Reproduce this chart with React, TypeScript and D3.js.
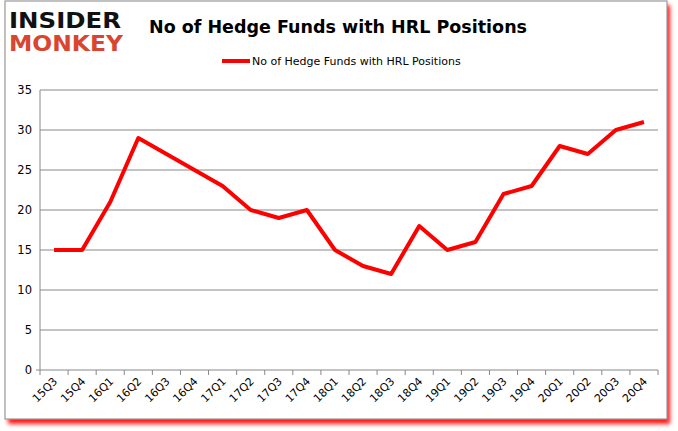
import React from "react";
import * as d3 from "d3";

const categories = ["15Q3","15Q4","16Q1","16Q2","16Q3","16Q4","17Q1","17Q2","17Q3","17Q4","18Q1","18Q2","18Q3","18Q4","19Q1","19Q2","19Q3","19Q4","20Q1","20Q2","20Q3","20Q4"];
const values = [15,15,21,29,27,25,23,20,19,20,15,13,12,18,15,16,22,23,28,27,30,31];
const yTicks = [0,5,10,15,20,25,30,35];
const seriesName = "No of Hedge Funds with HRL Positions";
const title = "No of Hedge Funds with HRL Positions";

export default function App() {
  const W = 678, H = 431;
  const left = 40, right = 658, top = 90, bottom = 370;
  const x = d3.scaleBand<string>().domain(categories).range([left, right]);
  const y = d3.scaleLinear().domain([0, 35]).range([bottom, top]);
  const line = d3.line<number>()
    .x((_, i) => (x(categories[i]) as number) + x.bandwidth() / 2)
    .y(d => y(d));
  const font = "Tahoma, 'DejaVu Sans', Verdana, sans-serif";
  return (
    <svg width={W} height={H} style={{ position: "absolute", left: 0, top: 0 }}>
      <defs>
        <filter id="blur" x="-5%" y="-5%" width="110%" height="110%">
          <feGaussianBlur stdDeviation="2" />
        </filter>
      </defs>
      <rect x={0} y={0} width={W} height={H} fill="#fff" />
      <rect x={8} y={5} width={662} height={419} fill="#ff0000" filter="url(#blur)" opacity={0.9} />
      <rect x={5} y={1} width={662} height={418} fill="#fff" stroke="#999" strokeWidth={1.2} />
      {/* Logo */}
      <text x={9} y={28} fontFamily="'DejaVu Sans', sans-serif" fontWeight="900" fontSize={22} fill="#111" textLength={112} lengthAdjust="spacingAndGlyphs">INSIDER</text>
      <text x={9} y={51} fontFamily="'DejaVu Sans', sans-serif" fontWeight="900" fontSize={22} fill="#d9452f" textLength={114} lengthAdjust="spacingAndGlyphs">MONKEY</text>
      {/* Title */}
      <text x={338} y={33} textAnchor="middle" fontFamily={font} fontWeight="bold" fontSize={17.5} fill="#000">{title}</text>
      {/* Legend */}
      <line x1={222} x2={250} y1={61} y2={61} stroke="#ff0000" strokeWidth={4} />
      <text x={252} y={65} fontFamily={font} fontSize={11} fill="#000">{seriesName}</text>
      {/* Grid */}
      {yTicks.map(t => (
        <g key={t}>
          <line x1={left} x2={right} y1={y(t)} y2={y(t)} stroke="#888" strokeWidth={1} />
          <text x={left - 8} y={y(t) + 4} textAnchor="end" fontFamily={font} fontSize={11.5} fill="#000">{t}</text>
        </g>
      ))}
      <line x1={left} x2={left} y1={top} y2={bottom} stroke="#888" />
      <line x1={left - 4} x2={left} y1={bottom} y2={bottom} stroke="#888" />
      {categories.map((c, i) => {
        const tx = left + i * x.step();
        return <line key={c} x1={tx} x2={tx} y1={bottom} y2={bottom + 5} stroke="#888" />;
      })}
      <line x1={right} x2={right} y1={bottom} y2={bottom + 5} stroke="#888" />
      {categories.map(c => {
        const cx = (x(c) as number) + x.bandwidth() / 2;
        return (
          <text key={c} transform={`translate(${cx + 4},${bottom + 12}) rotate(-45)`} textAnchor="end" fontFamily={font} fontSize={11} fill="#000">{c}</text>
        );
      })}
      <path d={line(values) || ""} fill="none" stroke="#ff0000" strokeWidth={4} strokeLinejoin="round" />
    </svg>
  );
}
